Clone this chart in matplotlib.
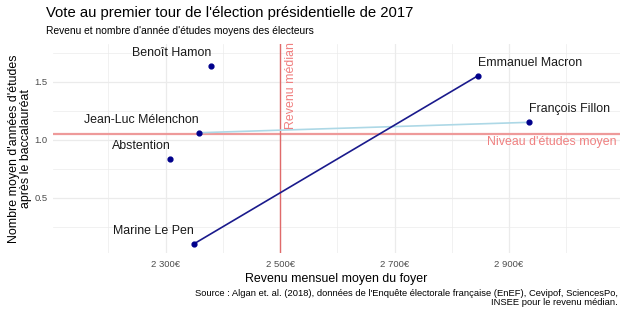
"""Vote au premier tour 2017 : revenu et niveau d'études des électorats"""

import matplotlib
matplotlib.use("Agg")
import matplotlib.pyplot as plt
from matplotlib.ticker import FixedLocator, FuncFormatter

plt.rcParams['font.family'] = ['Liberation Sans', 'DejaVu Sans']

candidats = ["Benoît Hamon", "Jean-Luc Mélenchon", "Abstention",
             "Marine Le Pen", "Emmanuel Macron", "François Fillon"]
revenu = [2380, 2358, 2308, 2349, 2845, 2935]
etudes = [1.64, 1.06, 0.83, 0.10, 1.55, 1.15]
cote = ["gauche", "gauche", "gauche", "gauche", "droite", "droite"]

# segments entre candidats (indices)
seg_fonce = (3, 4)   # Le Pen -> Macron
seg_clair = (1, 5)   # Mélenchon -> Fillon

revenu_median = 2500
etudes_moyen = 1.05

x_major = [2300, 2500, 2700, 2900]
x_minor = [2200, 2400, 2600, 2800, 3000]
y_major = [0.5, 1.0, 1.5]
y_minor = [0.25, 0.75, 1.25, 1.75]

fig = plt.figure(figsize=(6.2, 3.14), dpi=100)
ax = fig.add_axes([53 / 620, 1 - 253 / 314, 567 / 620, 209 / 314])
ax.set_xlim(2103, 3094)
ax.set_ylim(0.022, 1.826)

for s in ax.spines.values():
    s.set_visible(False)
ax.xaxis.set_major_locator(FixedLocator(x_major))
ax.xaxis.set_minor_locator(FixedLocator(x_minor))
ax.yaxis.set_major_locator(FixedLocator(y_major))
ax.yaxis.set_minor_locator(FixedLocator(y_minor))
ax.xaxis.set_major_formatter(FuncFormatter(lambda v, p: "{:,.0f}€".format(v).replace(",", " ")))
ax.yaxis.set_major_formatter(FuncFormatter(lambda v, p: "{:.1f}".format(v)))
ax.tick_params(which="both", length=0, labelsize=6.8, labelcolor="#4D4D4D")
ax.tick_params(axis="x", pad=5)
ax.tick_params(axis="y", pad=4)
ax.grid(which="major", color="#EBEBEB", lw=0.9)
ax.grid(which="minor", color="#EBEBEB", lw=0.5)
ax.set_axisbelow(True)

ax.axhline(etudes_moyen, color="#EE9A9A", lw=1.6, zorder=1)
ax.axvline(revenu_median, color="#E06A6A", lw=1.0, zorder=1)

ax.plot([revenu[i] for i in seg_clair], [etudes[i] for i in seg_clair],
        color="#ADD8E6", lw=1.2, zorder=2)
ax.plot([revenu[i] for i in seg_fonce], [etudes[i] for i in seg_fonce],
        color="#1A1A8C", lw=1.2, zorder=2)
ax.scatter(revenu, etudes, s=12, color="#00008B", zorder=3)

for nom, x, y, c in zip(candidats, revenu, etudes, cote):
    ax.annotate(nom, (x, y), xytext=(0, 5), textcoords="offset points",
                ha="right" if c == "gauche" else "left", va="bottom",
                fontsize=8.9, color="#1A1A1A")

ax.text(revenu_median + 8, etudes_moyen + 0.04, "Revenu médian", rotation=90,
        ha="left", va="bottom", fontsize=8.9, color="#F08080")
ax.text(3088, etudes_moyen - 0.02, "Niveau d'études moyen", ha="right", va="top",
        fontsize=8.9, color="#F08080")

ax.set_xlabel("Revenu mensuel moyen du foyer", fontsize=8.9, labelpad=3)
ax.set_ylabel("Nombre moyen d'années d'études\naprès le baccalauréat", fontsize=8.9,
              labelpad=2, linespacing=0.95)

fig.text(46 / 620, 1 - 17 / 314, "Vote au premier tour de l'élection présidentielle de 2017",
         fontsize=10.7, va="baseline")
fig.text(46 / 620, 1 - 34 / 314, "Revenu et nombre d'année d'études moyens des électeurs",
         fontsize=7.35, va="baseline")
fig.text(618 / 620, 1 - 298 / 314,
         "Source : Algan et. al. (2018), données de l'Enquête électorale française (EnEF), Cevipof, SciencesPo,\n"
         "INSEE pour le revenu médian.",
         fontsize=6.75, ha="right", va="center", multialignment="right", linespacing=1.1)

fig.savefig("out.png", dpi=100)
